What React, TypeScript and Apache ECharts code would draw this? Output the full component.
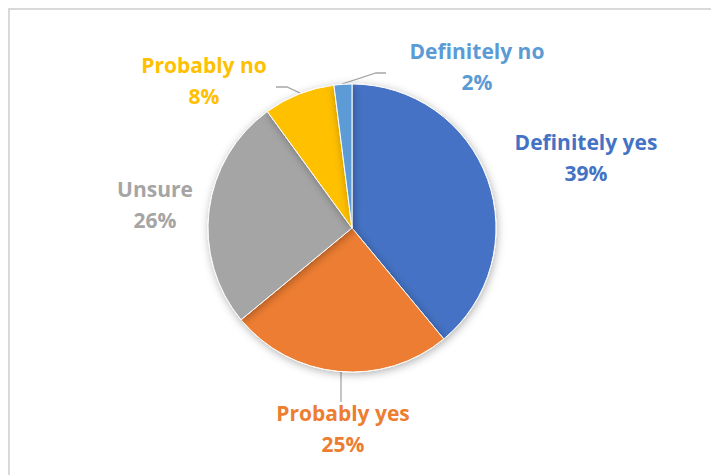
import React, { useEffect, useRef } from "react";
import * as echarts from "echarts";

const categories = ["Definitely yes", "Probably yes", "Unsure", "Probably no", "Definitely no"];
const values = [39, 25, 26, 8, 2];
const colors = ["#4472C4", "#ED7D31", "#A5A5A5", "#FFC000", "#5B9BD5"];

// label centre positions (px) and optional leader lines
const labelPos: [number, number][] = [
  [586, 157],
  [343, 428],
  [155, 204],
  [204, 80],
  [477, 66],
];
const leaderLines: ([number, number][] | null)[] = [
  null,
  [[341, 372], [341, 402], [341, 402]],
  null,
  [[300, 93], [287, 87], [276, 87]],
  [[342, 84], [376, 73], [386, 73]],
];

export default function App() {
  const ref = useRef<HTMLDivElement>(null);
  useEffect(() => {
    if (!ref.current) return;
    const chart = echarts.init(ref.current, undefined, { renderer: "svg" });
    chart.setOption({
      animation: false,
      backgroundColor: "#ffffff",
      graphic: [
        {
          type: "rect",
          shape: { x: 9, y: 9, width: 740, height: 500 },
          style: { fill: "none", stroke: "#d9d9d9", lineWidth: 2 },
          silent: true,
        },
      ],
      series: [
        {
          type: "pie",
          center: [352, 228],
          radius: 144,
          startAngle: 90,
          clockwise: true,
          data: categories.map((name, i) => ({
            name,
            value: values[i],
            itemStyle: { color: colors[i] },
            label: { color: colors[i] },
          })),
          itemStyle: {
            borderColor: "#ffffff",
            borderWidth: 1,
            shadowBlur: 8,
            shadowColor: "rgba(0,0,0,0.3)",
            shadowOffsetX: 1,
            shadowOffsetY: 2,
          },
          label: {
            show: true,
            position: "outside",
            formatter: (p: any) => `${p.name}\n${p.value}%`,
            fontFamily: "Open Sans",
            fontWeight: "bold",
            fontSize: 21,
            lineHeight: 31,
            align: "center",
            overflow: "none",
            width: 200,
          },
          labelLine: {
            show: true,
            lineStyle: { color: "#a6a6a6", width: 1.3 },
          },
          labelLayout: (params: any) => {
            const i = params.dataIndex;
            const pos = labelPos[i];
            const res: any = {
              x: pos[0],
              y: pos[1],
              align: "center",
              verticalAlign: "middle",
            };
            const pts = leaderLines[i];
            res.labelLinePoints = pts ? pts : [[pos[0], pos[1]], [pos[0], pos[1]], [pos[0], pos[1]]];
            return res;
          },
        },
      ],
    });
    return () => chart.dispose();
  }, []);
  return (
    <div
      ref={ref}
      style={{ position: "absolute", left: 0, top: 0, width: 711, height: 475 }}
    />
  );
}
